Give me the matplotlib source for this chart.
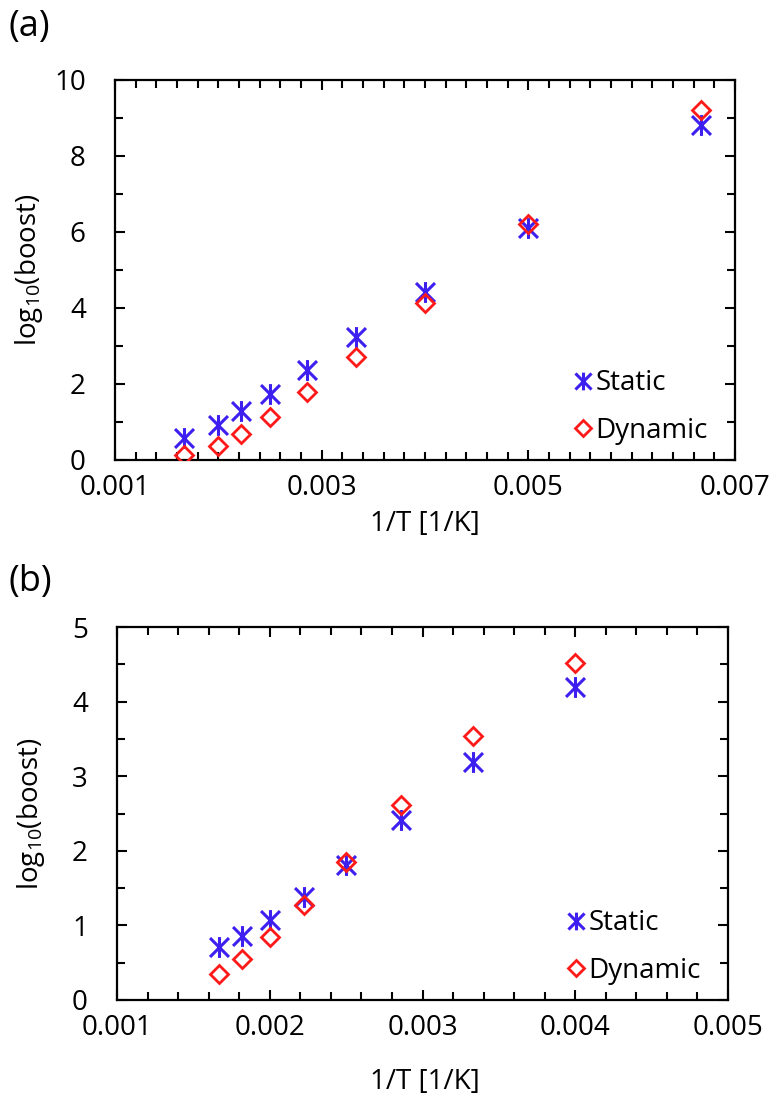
import matplotlib
matplotlib.use("Agg")
import matplotlib.pyplot as plt
from matplotlib.ticker import MultipleLocator
from matplotlib.path import Path

plt.rcParams['font.family'] = ['Open Sans', 'DejaVu Sans']
plt.rcParams['mathtext.default'] = 'regular'

# Panel (a)
temps_a = [600, 500, 450, 400, 350, 300, 250, 200, 150]
inv_t_a = [1.0 / t for t in temps_a]
static_a = [0.58, 0.92, 1.29, 1.74, 2.37, 3.24, 4.42, 6.10, 8.82]
dynamic_a = [0.13, 0.37, 0.68, 1.13, 1.79, 2.71, 4.13, 6.21, 9.21]

# Panel (b)
temps_b = [600, 550, 500, 450, 400, 350, 300, 250]
inv_t_b = [1.0 / t for t in temps_b]
static_b = [0.71, 0.86, 1.07, 1.38, 1.81, 2.41, 3.19, 4.20]
dynamic_b = [0.35, 0.55, 0.84, 1.27, 1.85, 2.61, 3.54, 4.52]

xticks_a = [0.001, 0.003, 0.005, 0.007]
xticklabels_a = ['0.001', '0.003', '0.005', '0.007']
yticks_a = [0, 2, 4, 6, 8, 10]
xticks_b = [0.001, 0.002, 0.003, 0.004, 0.005]
xticklabels_b = ['0.001', '0.002', '0.003', '0.004', '0.005']
yticks_b = [0, 1, 2, 3, 4, 5]

BLUE = '#3d1ff0'
RED = '#ff1a1a'
FS = 20

fig = plt.figure(figsize=(7.75, 10.97), dpi=100)
ax_a = fig.add_axes([115/775, 1-460/1097, 620/775, 380/1097])
ax_b = fig.add_axes([117/775, 1-1000/1097, 611/775, 373/1097])

# Excel-like star: X with a vertical bar
star = Path([(-1, -1), (1, 1), (-1, 1), (1, -1), (0, -1.1), (0, 1.1)],
            [Path.MOVETO, Path.LINETO, Path.MOVETO, Path.LINETO, Path.MOVETO, Path.LINETO])

def style(ax, xticks, xlabels, yticks, xminor, yminor, xlim, ylim, xl_xy, yl_xy):
    ax.set_xlim(*xlim)
    ax.set_ylim(*ylim)
    ax.set_xticks(xticks)
    ax.set_xticklabels(xlabels)
    ax.set_yticks(yticks)
    ax.set_yticklabels([str(v) for v in yticks])
    ax.xaxis.set_minor_locator(MultipleLocator(xminor))
    ax.yaxis.set_minor_locator(MultipleLocator(yminor))
    ax.tick_params(axis='x', which='major', direction='in', top=True, bottom=True,
                   width=1.5, length=7, labelsize=FS, pad=10)
    ax.tick_params(axis='x', which='minor', direction='in', top=True, bottom=True,
                   width=1.5, length=6)
    ax.tick_params(axis='y', which='major', direction='in', left=True, right=True,
                   width=1.5, length=7, labelsize=FS, pad=21)
    ax.tick_params(axis='y', which='minor', direction='in', left=True, right=True,
                   width=1.5, length=6)
    for s in ax.spines.values():
        s.set_linewidth(1.6)
    ax.set_xlabel('1/T [1/K]', fontsize=FS)
    ax.set_ylabel('log$_{10}$(boost)', fontsize=FS)
    ax.xaxis.set_label_coords(*xl_xy)
    ax.yaxis.set_label_coords(*yl_xy)

def draw(ax, x, s, d):
    ax.plot(x, s, linestyle='none', marker=star, markersize=15,
            markeredgewidth=2.2, color=BLUE, label='Static', zorder=3)
    ax.plot(x, d, linestyle='none', marker='D', markersize=9,
            markeredgewidth=2.0, markeredgecolor=RED, markerfacecolor='none',
            label='Dynamic', zorder=4)
    ax.legend(loc='lower right', bbox_to_anchor=(0.996, -0.026), frameon=False,
              fontsize=FS, handlelength=0.6, handletextpad=0.15,
              labelspacing=0.7, markerscale=0.85)

draw(ax_a, inv_t_a, static_a, dynamic_a)
style(ax_a, xticks_a, xticklabels_a, yticks_a, 0.0002, 1, (0.001, 0.007), (0, 10),
      (0.5, -0.132), (-0.113, 0.5))
draw(ax_b, inv_t_b, static_b, dynamic_b)
style(ax_b, xticks_b, xticklabels_b, yticks_b, 0.0002, 0.5, (0.001, 0.005), (0, 5),
      (0.504, -0.182), (-0.115, 0.5))

fig.text(8/775, 1-27/1097, '(a)', fontsize=26, va='center', ha='left')
fig.text(8/775, 1-582/1097, '(b)', fontsize=26, va='center', ha='left')

fig.savefig('out.png', dpi=100)
